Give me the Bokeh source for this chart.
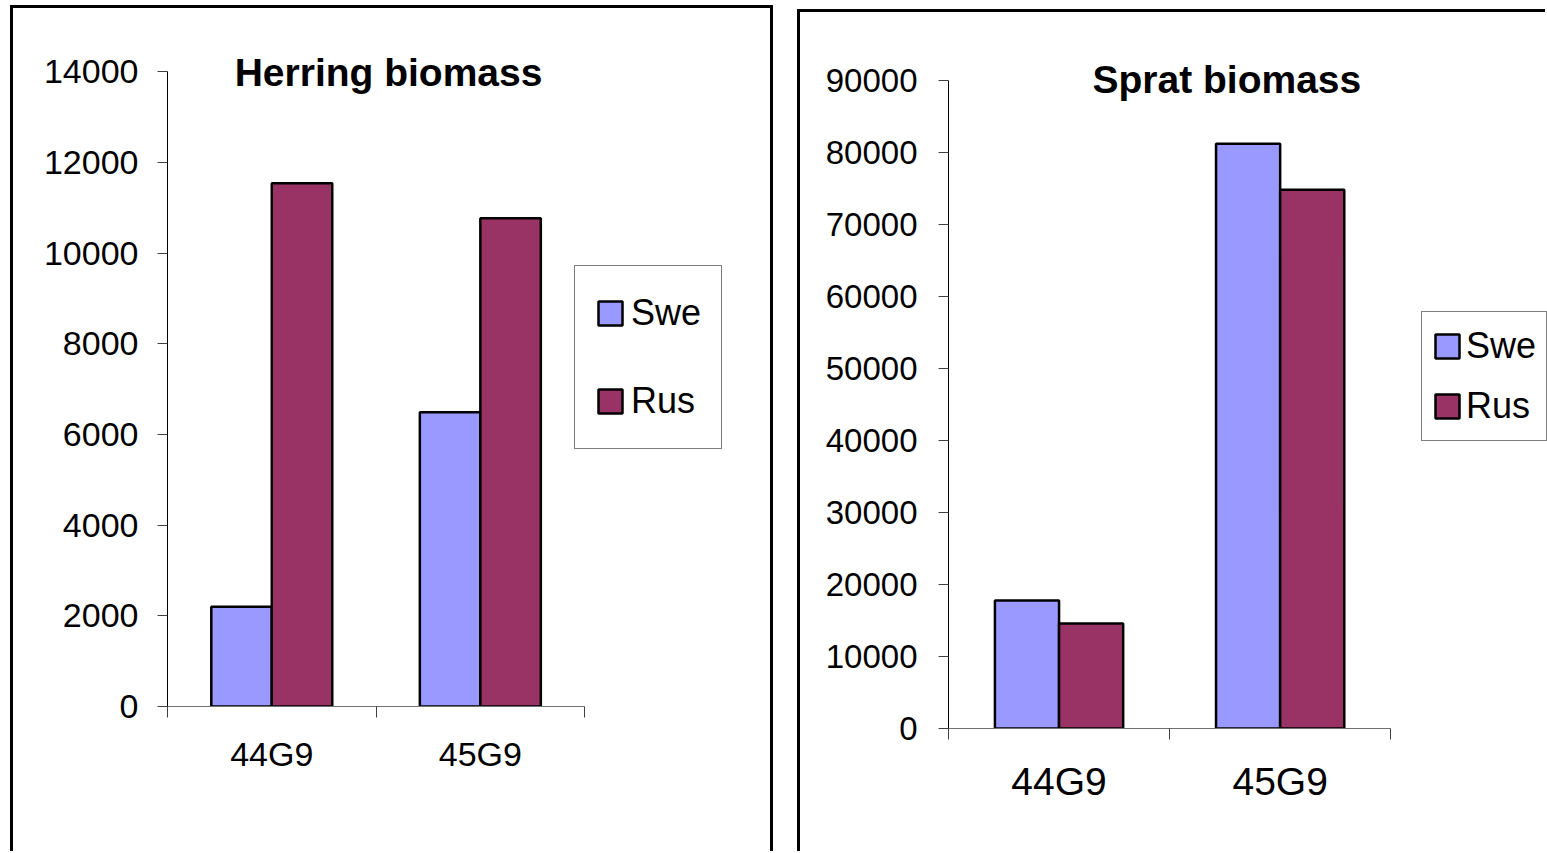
from bokeh.plotting import figure
from bokeh.models import (Range1d, LinearAxis, FixedTicker,
                          Legend, LegendItem, Label, ColumnDataSource, NumeralTickFormatter, Spacer)
from bokeh.transform import dodge
from bokeh.layouts import row, column
from bokeh.embed import file_html
from bokeh.resources import INLINE

# ---- data ----
categories = ["44G9", "45G9"]
series_names = ["Swe", "Rus"]
herring_swe = [2200, 6490]
herring_rus = [11540, 10770]
sprat_swe = [17800, 81260]
sprat_rus = [14600, 74860]
herring_ticks = [0, 2000, 4000, 6000, 8000, 10000, 12000, 14000]
sprat_ticks = [0, 10000, 20000, 30000, 40000, 50000, 60000, 70000, 80000, 90000]

SWE_COLOR = "#9999FF"
RUS_COLOR = "#993366"
FONT = "Liberation Sans"


def make_panel(title, swe, rus, ticks, canvas_w, canvas_h, axis_left, axis_px_w, axis_bottom, axis_px_h,
               tick_font, cat_font, cat_standoff, y_standoff, title_slot, title_val,
               leg_loc, leg_pad, leg_lh, leg_spacing, leg_standoff, styles):
    n = len(categories)
    centers = [i + 0.5 for i in range(n)]          # category slot centres on the x scale
    frame_w = canvas_w - axis_left
    frame_h = axis_bottom
    x_end = n * frame_w / axis_px_w
    y_end = ticks[-1] * frame_h / axis_px_h
    p = figure(x_range=Range1d(0, x_end), y_range=Range1d(ticks[0], y_end),
               frame_width=frame_w, frame_height=frame_h,
               min_border_left=axis_left, min_border_right=0,
               min_border_top=0, min_border_bottom=canvas_h - axis_bottom,
               x_axis_location=None, y_axis_location=None,
               toolbar_location=None, output_backend="svg",
               outline_line_color=None, background_fill_color="white",
               border_fill_color="white")
    p.grid.grid_line_color = None

    src = ColumnDataSource(dict(pos=centers, cat=categories, swe=swe, rus=rus))
    r1 = p.vbar(x=dodge("pos", -0.145), top="swe", width=0.29, source=src,
                fill_color=SWE_COLOR, line_color="black", line_width=2.5)
    r2 = p.vbar(x=dodge("pos", 0.145), top="rus", width=0.29, source=src,
                fill_color=RUS_COLOR, line_color="black", line_width=2.5)

    # y axis
    yax = LinearAxis(ticker=FixedTicker(ticks=ticks), formatter=NumeralTickFormatter(format="0"),
                     bounds=(ticks[0], ticks[-1]),
                     major_tick_out=10, major_tick_in=0, minor_tick_line_color=None,
                     axis_line_color="black", axis_line_width=1,
                     major_tick_line_color="#404040",
                     major_label_standoff=y_standoff,
                     major_label_text_font=FONT, major_label_text_font_size=tick_font,
                     major_label_text_color="black")
    p.add_layout(yax, "left")

    # x axis: line with ticks at the category boundaries
    bounds = list(range(n + 1))
    tick_ax = LinearAxis(ticker=FixedTicker(ticks=bounds), bounds=(0, n),
                         major_tick_out=11, major_tick_in=0, minor_tick_line_color=None,
                         axis_line_color="#707070", major_tick_line_color="#404040",
                         major_label_standoff=0, major_label_text_font_size="0px",
                         major_label_overrides={b: "" for b in bounds})
    p.add_layout(tick_ax, "below")
    # category names centred in their slots
    cat_ax = LinearAxis(ticker=FixedTicker(ticks=centers), bounds=(0, n),
                        major_label_overrides={c: lab for c, lab in zip(centers, categories)},
                        axis_line_color=None, major_tick_line_color=None,
                        minor_tick_line_color=None,
                        major_tick_out=0, major_tick_in=0,
                        major_label_standoff=cat_standoff,
                        major_label_text_font=FONT, major_label_text_font_size=cat_font,
                        major_label_text_color="black")
    p.add_layout(cat_ax, "below")

    p.add_layout(Label(x=title_slot, y=title_val, text=title, text_align="center",
                       text_baseline="middle", text_font=FONT, text_font_style="bold",
                       text_font_size="39px", text_color="black"))

    legend = Legend(items=[LegendItem(label=series_names[0], renderers=[r1]),
                           LegendItem(label=series_names[1], renderers=[r2])],
                    location=leg_loc, margin=0, padding=leg_pad, spacing=leg_spacing,
                    glyph_width=30, glyph_height=30, label_height=leg_lh,
                    label_standoff=leg_standoff,
                    label_text_font=FONT, label_text_font_size="36px", label_text_color="black",
                    border_line_color="black", border_line_width=1,
                    background_fill_color="white", background_fill_alpha=1)
    p.add_layout(legend)
    p.styles = styles
    return p


# left panel canvas starts at page (13, 8), right panel canvas at (800, 12)
p1 = make_panel("Herring biomass", herring_swe, herring_rus, herring_ticks,
                canvas_w=757, canvas_h=843, axis_left=154, axis_px_w=413,
                axis_bottom=695, axis_px_h=632,
                tick_font="34px", cat_font="34px", cat_standoff=17, y_standoff=19,
                title_slot=1.06, title_val=13980,
                leg_loc=(407, 257), leg_pad=20, leg_lh=54, leg_spacing=34, leg_standoff=6,
                styles={"box-sizing": "content-box",
                        "border-top": "3px solid black", "border-left": "3px solid black",
                        "border-right": "3px solid black"})

p2 = make_panel("Sprat biomass", sprat_swe, sprat_rus, sprat_ticks,
                canvas_w=745, canvas_h=839, axis_left=148, axis_px_w=440,
                axis_bottom=713, axis_px_h=645,
                tick_font="33px", cat_font="39px", cat_standoff=20, y_standoff=21,
                title_slot=1.259, title_val=90140,
                leg_loc=(473, 287), leg_pad=10, leg_lh=48, leg_spacing=12, leg_standoff=4,
                styles={"box-sizing": "content-box",
                        "border-top": "3px solid black", "border-left": "3px solid black"})

layout = row(Spacer(width=10), column(Spacer(height=5), p1),
             Spacer(width=24), column(Spacer(height=9), p2))

open("out.html", "w").write(file_html(layout, INLINE))
